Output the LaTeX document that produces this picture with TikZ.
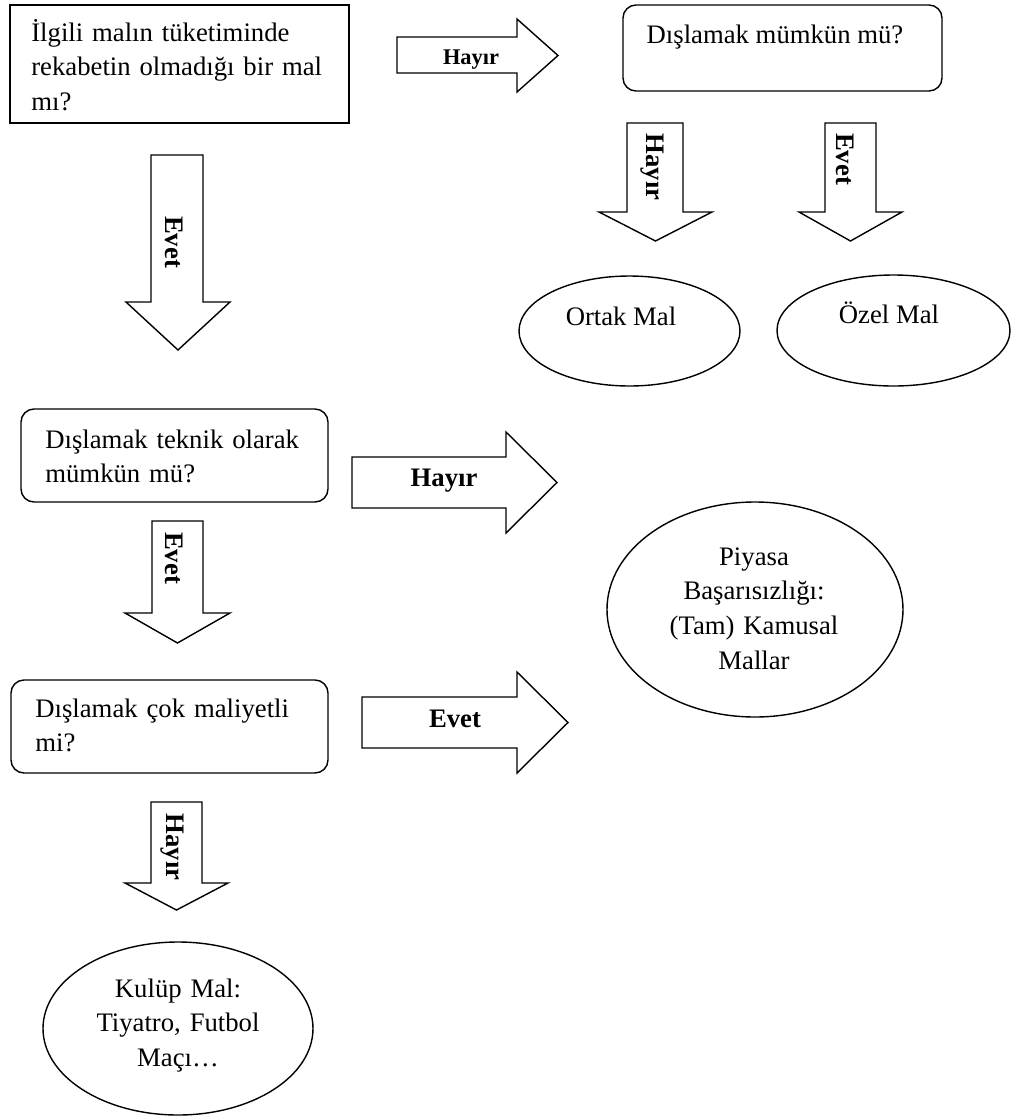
\documentclass[tikz,border=0pt]{standalone}
\usepackage{fontspec}
\setmainfont{Liberation Serif}
\usetikzlibrary{shapes.geometric}

\newcommand{\pxl}{0.02cm}
% block arrows drawn as outlines
\newcommand{\rightblock}[7]{%
  \draw[blk] (#1,#4) -- (#2,#4) -- (#2,#6) -- (#3,{(#6+#7)/2}) -- (#2,#7) -- (#2,#5) -- (#1,#5) -- cycle;}
\newcommand{\downblock}[7]{%
  \draw[blk] (#1,#5) -- (#2,#5) -- (#2,#6) -- (#4,#6) -- ({(#3+#4)/2},#7) -- (#3,#6) -- (#1,#6) -- cycle;}

\begin{document}
\begin{tikzpicture}[x=\pxl, y=-\pxl, font=\fontsize{15.2}{19.9}\selectfont,
  sqbox/.style={draw, line width=0.8pt, inner sep=0},
  rbox/.style={sqbox, rounded corners=0.26cm},
  oval/.style={draw, ellipse, line width=0.8pt, inner sep=0},
  blk/.style={draw, line width=0.8pt},
  txt/.style={inner sep=0, text width=#1*\pxl},
  lbl/.style={inner sep=0, font=\fontsize{15.2}{18}\selectfont\bfseries}]
  \useasboundingbox (0,0) rectangle (1011,1117);

  % questions
  \node[sqbox, minimum width=339*\pxl, minimum height=118*\pxl] (q1) at (179.5,64) {};
  \node[txt=320, align=left, anchor=base west] (q1txt) at (31,41) {İlgili malın tüketiminde\\rekabetin olmadığı bir mal\\mı?};
  \node[rbox, minimum width=319*\pxl, minimum height=86*\pxl] (q2) at (782.5,48) {};
  \node[inner sep=0, anchor=base] (q2txt) at (775,43) {Dışlamak mümkün mü?};
  \node[rbox, minimum width=307*\pxl, minimum height=93*\pxl] (q3) at (174.5,455.5) {};
  \node[txt=280, align=left, anchor=base west] (q3txt) at (45,448) {Dışlamak teknik olarak\\mümkün mü?};
  \node[rbox, minimum width=317*\pxl, minimum height=93*\pxl] (q4) at (169.5,726.5) {};
  \node[txt=280, align=left, anchor=base west] (q4txt) at (35,717) {Dışlamak çok maliyetli\\mi?};

  % results
  \node[oval, minimum width=221*\pxl, minimum height=110*\pxl] (ortak) at (629.5,331) {};
  \node[inner sep=0, anchor=base] (ortaktxt) at (621,325) {Ortak Mal};
  \node[oval, minimum width=233*\pxl, minimum height=111*\pxl] (ozel) at (893.5,330.5) {};
  \node[inner sep=0, anchor=base] (ozeltxt) at (889,323) {Özel Mal};
  \node[oval, minimum width=296*\pxl, minimum height=215*\pxl] (piyasa) at (755,609.5) {};
  \node[txt=280, align=center, anchor=base] (piyasatxt) at (754,565) {Piyasa\\Başarısızlığı:\\(Tam) Kamusal\\Mallar};
  \node[oval, minimum width=270*\pxl, minimum height=173*\pxl] (kulup) at (178,1028.5) {};
  \node[txt=250, align=center, anchor=base] (kuluptxt) at (178,997) {Kulüp Mal:\\Tiyatro, Futbol\\Maçı…};

  % block arrows
  \rightblock{397}{517}{558}{37}{73}{19}{92}
  \rightblock{352}{506}{557}{457}{508}{432}{533}
  \rightblock{362}{517}{568}{697}{748}{672}{773}
  \downblock{151}{203}{126}{230}{155}{302}{350}
  \downblock{627}{683}{599}{712}{123}{212}{241}
  \downblock{825}{876}{799}{902}{123}{212}{241}
  \downblock{152}{203}{125}{230}{521}{613}{643}
  \downblock{151}{202}{125}{228}{802}{883}{910}

  % arrow labels
  \node[lbl, anchor=base, font=\fontsize{12.75}{15}\selectfont\bfseries] (hayir1) at (471,64) {Hayır};
  \node[lbl, anchor=base] (hayir2) at (444,486) {Hayır};
  \node[lbl, anchor=base] (evet3) at (455,727) {Evet};
  \node[lbl, rotate=-90] (evet1) at (174,242) {Evet};
  \node[lbl, rotate=-90] (hayir4) at (652,167) {Hayır};
  \node[lbl, rotate=-90] (evet4) at (845,159) {Evet};
  \node[lbl, rotate=-90] (evet2) at (174,558) {Evet};
  \node[lbl, rotate=-90] (hayir3) at (172,847) {Hayır};
\end{tikzpicture}
\end{document}
